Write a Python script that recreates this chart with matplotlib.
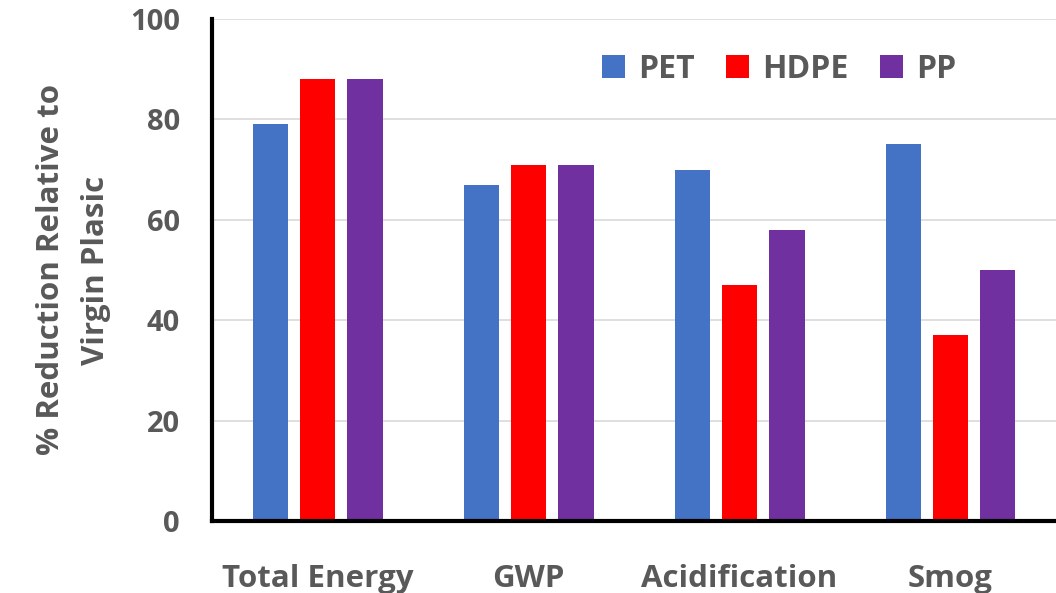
import matplotlib.pyplot as plt
import numpy as np

categories = ['Total Energy', 'GWP', 'Acidification', 'Smog']
pet = [79, 67, 70, 75]
hdpe = [88, 71, 47, 37]
pp = [88, 71, 58, 50]
series_names = ['PET', 'HDPE', 'PP']
colors = ['#4472C4', '#FF0000', '#7030A0']

plt.rcParams['font.family'] = ['Open Sans', 'DejaVu Sans']
plt.rcParams['font.weight'] = 'bold'
gray = '#595959'

fig = plt.figure(figsize=(10.56, 5.93), dpi=100)
ax = fig.add_axes([0.2008, 0.1214, 0.7992, 0.8466])

x = np.arange(len(categories))
width = 0.17
pitch = 0.223
for i, (vals, name, c) in enumerate(zip([pet, hdpe, pp], series_names, colors)):
    ax.bar(x + (i - 1) * pitch, vals, width, color=c, label=name, zorder=3)

ax.set_xlim(-0.5, 3.5)
ax.set_ylim(0, 100)
ax.set_yticks(range(0, 101, 20))
ax.set_xticks(x)
ax.set_xticklabels(categories, fontsize=22.5)
ax.set_yticklabels([str(v) for v in range(0, 101, 20)], fontsize=21)
ax.grid(axis='y', color='#d9d9d9', linewidth=1.2, zorder=0)
ax.tick_params(axis='both', length=0, labelcolor=gray)
ax.tick_params(axis='x', pad=31)
ax.tick_params(axis='y', pad=23)

for s in ['top', 'right']:
    ax.spines[s].set_visible(False)
for s in ['left', 'bottom']:
    ax.spines[s].set_linewidth(3)
    ax.spines[s].set_color('black')
    ax.spines[s].set_zorder(4)

ax.set_ylabel('% Reduction Relative to\nVirgin Plasic', fontsize=22.5, color=gray,
              fontweight='bold', labelpad=14, linespacing=1.65)

ax.legend(loc='upper center', bbox_to_anchor=(0.672, 0.99), ncol=3, frameon=False,
          fontsize=23, labelcolor=gray, handlelength=0.72, handleheight=0.72,
          columnspacing=1.0, handletextpad=0.4)

fig.savefig('out.png', dpi=100)
